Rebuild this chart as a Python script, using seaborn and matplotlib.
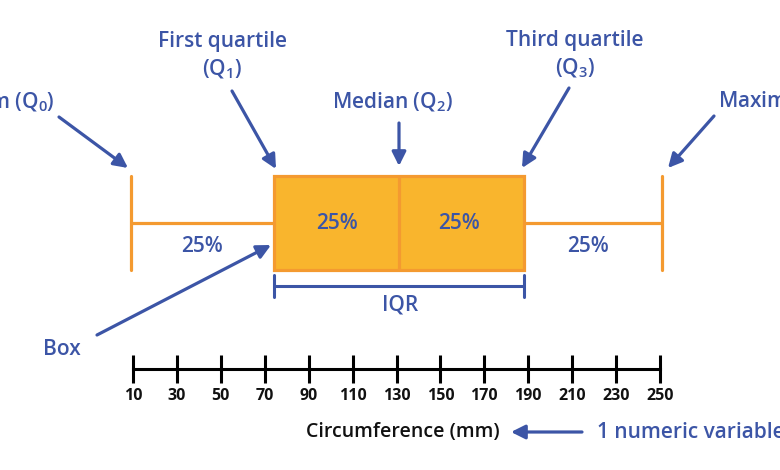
import matplotlib
matplotlib.use("Agg")
import matplotlib.pyplot as plt
import matplotlib.transforms as mtransforms
import seaborn as sns

# ---------------- data ----------------
five_numbers = [9, 74, 131, 188, 251]          # Q0, Q1, Q2, Q3, Q4 (mm)
tick_values = [10, 30, 50, 70, 90, 110, 130, 150, 170, 190, 210, 230, 250]
tick_labels = [str(v) for v in tick_values]
section_labels = ["25%", "25%", "25%", "25%"]
axis_title = "Circumference (mm)"
variable_note = "1 numeric variable"
min_label = "Minimum (Q$_\\mathbf{0}$)"
q1_label = ["First quartile", "(Q$_\\mathbf{1}$)"]
median_label = "Median (Q$_\\mathbf{2}$)"
q3_label = ["Third quartile", "(Q$_\\mathbf{3}$)"]
max_label = "Maximum (Q$_\\mathbf{4}$)"
box_label = "Box"
iqr_label = "IQR"

# ---------------- style ----------------
BLUE = "#3C55A6"
FILL = "#F9B52D"
EDGE = "#F49A30"
FONT = "Open Sans"

sns.set_theme(style="white")
plt.rcParams["font.family"] = [FONT, "DejaVu Sans"]
plt.rcParams["mathtext.fontset"] = "custom"
plt.rcParams["mathtext.rm"] = FONT + ":semibold"
plt.rcParams["mathtext.it"] = FONT + ":semibold"
plt.rcParams["mathtext.bf"] = FONT + ":semibold"

W, H = 780, 470
fig = plt.figure(figsize=(W / 100, H / 100), dpi=100)
fig.patch.set_facecolor("white")

# pixel scale of the value axis: 10 -> 133 px, 250 -> 660 px
ppu = (660 - 133) / (tick_values[-1] - tick_values[0])
XL = (tick_values[0] - 133 / ppu, tick_values[0] + (W - 133) / ppu)

# ---------------- box (seaborn) ----------------
box_top, box_bot = 175.5, 269.5
ax_box = fig.add_axes([0, 1 - box_bot / H, 1, (box_bot - box_top) / H])
sns.boxplot(x=five_numbers, ax=ax_box, whis=(0, 100), width=1.0,
            color=FILL, linecolor=EDGE, linewidth=2.3, saturation=1,
            capwidths=1.0)
ax_box.set_xlim(*XL)
ax_box.set_ylim(0.5, -0.5)
ax_box.axis("off")
for art in ax_box.get_children():
    try:
        art.set_clip_on(False)
    except Exception:
        pass
for p in ax_box.patches:
    p.set_facecolor(FILL)
    p.set_edgecolor(EDGE)

# ---------------- numeric axis ----------------
axis_y = 369
ax_axis = fig.add_axes([0, 1 - axis_y / H, 1, 0.0001])
ax_axis.set_xlim(*XL)
ax_axis.set_facecolor("none")
for s in ["top", "left", "right"]:
    ax_axis.spines[s].set_visible(False)
ax_axis.spines["bottom"].set_color("black")
ax_axis.spines["bottom"].set_linewidth(2.2)
ax_axis.spines["bottom"].set_bounds(tick_values[0], tick_values[-1])
ax_axis.set_yticks([])
ax_axis.set_xticks(tick_values)
ax_axis.set_xticklabels(tick_labels)
ax_axis.tick_params(axis="x", direction="inout", length=20, width=2.2,
                    color="black", pad=4, labelsize=11.5, bottom=True)
for lab in ax_axis.get_xticklabels():
    lab.set_fontweight("bold")
    lab.set_color("#111111")

# ---------------- annotation layer (pixel coords, y from top) ----------------
ax = fig.add_axes([0, 0, 1, 1])
ax.set_xlim(0, W)
ax.set_ylim(H, 0)
ax.axis("off")
ax.set_zorder(5)

txt = dict(color=BLUE, fontweight="semibold", fontsize=15, ha="center", va="baseline")
arrow = dict(arrowstyle="-|>", color=BLUE, lw=2.3, mutation_scale=21,
             shrinkA=0, shrinkB=0)

ax.text(55, 108, min_label, **{**txt, "ha": "right"})
ax.text(718, 107, max_label, **{**txt, "ha": "left"})
ax.text(222, 47, q1_label[0], **txt)
ax.text(222, 75, q1_label[1], **txt)
ax.text(575, 46, q3_label[0], **txt)
ax.text(575, 74, q3_label[1], **txt)
ax.text(392, 108, median_label, **txt)
ax.text(62, 355, box_label, **txt)
ax.text(400, 310, iqr_label, **txt)

# section percentages
ax.text(202, 252, section_labels[0], **txt)
ax.text(337, 229, section_labels[1], **txt)
ax.text(459, 229, section_labels[2], **txt)
ax.text(588, 252, section_labels[3], **txt)

# arrows
ax.annotate("", xy=(128, 168), xytext=(59, 117), arrowprops=arrow)
ax.annotate("", xy=(276, 169), xytext=(232, 91), arrowprops=arrow)
ax.annotate("", xy=(399, 166), xytext=(399, 123), arrowprops=arrow)
ax.annotate("", xy=(522, 168), xytext=(569, 88), arrowprops=arrow)
ax.annotate("", xy=(668, 168), xytext=(714, 116), arrowprops=arrow)
ax.annotate("", xy=(271, 245), xytext=(97, 335), arrowprops=arrow)
ax.annotate("", xy=(511, 432), xytext=(582, 432), arrowprops=arrow)

# IQR bracket between Q1 and Q3
blend = mtransforms.blended_transform_factory(ax_box.transData, ax.transData)
q1, q3 = five_numbers[1], five_numbers[3]
ax.plot([q1, q3], [286, 286], color=BLUE, lw=2.2, transform=blend,
        solid_capstyle="butt", clip_on=False)
ax.plot([q1, q1], [275, 297], color=BLUE, lw=2.2, transform=blend, clip_on=False)
ax.plot([q3, q3], [275, 297], color=BLUE, lw=2.2, transform=blend, clip_on=False)

# axis title and note
ax.text(403, 437, axis_title, color="#111111", fontweight="semibold", fontsize=14,
        ha="center", va="baseline")
ax.text(597, 438, variable_note, **{**txt, "ha": "left"})

fig.savefig("out.png", dpi=100, facecolor="white")
